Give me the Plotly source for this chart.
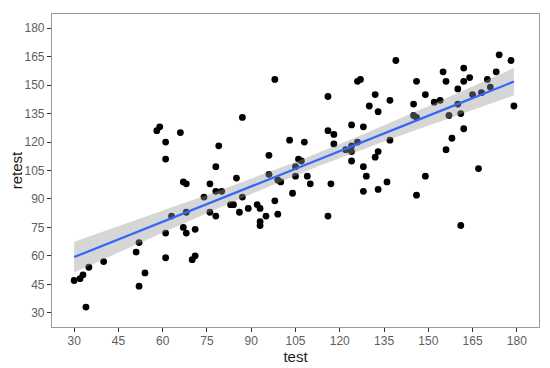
import numpy as np
import plotly.graph_objects as go

test = [30, 32, 33, 34, 35, 40, 51, 52, 52, 54, 58, 59, 61, 61, 61, 61, 63, 66, 67, 68,
        68, 67, 68, 70, 71, 71, 74, 76, 76, 78, 78, 78, 79, 80, 83, 84, 85, 86, 87, 87,
        89, 92, 93, 93, 93, 95, 96, 96, 98, 98, 99, 99, 100, 103, 104, 105, 105, 106, 107, 108,
        109, 110, 116, 116, 116, 117, 118, 118, 122, 124, 124, 124, 124, 126, 126, 127, 128, 128, 128, 129,
        130, 132, 132, 133, 133, 133, 136, 137, 137, 139, 145, 145, 146, 146, 146, 149, 149, 152, 154, 155,
        156, 156, 157, 158, 160, 160, 161, 161, 162, 162, 162, 164, 165, 167, 168, 170, 171, 173, 174, 178,
        179]
retest = [47, 48, 50, 33, 54, 57, 62, 67, 44, 51, 126, 128, 120, 111, 72, 59, 81, 125, 99, 98,
          83, 75, 72, 58, 60, 74, 91, 98, 83, 107, 94, 81, 118, 94, 87, 87, 101, 83, 133, 91,
          85, 87, 85, 78, 76, 81, 113, 103, 153, 89, 82, 100, 99, 121, 93, 107, 102, 111, 110, 120,
          102, 98, 144, 126, 81, 98, 124, 119, 116, 129, 118, 115, 110, 120, 152, 153, 128, 107, 94, 102,
          139, 145, 112, 136, 115, 95, 99, 142, 121, 163, 140, 134, 133, 152, 92, 145, 102, 141, 142, 157,
          152, 116, 134, 122, 148, 140, 135, 76, 159, 152, 127, 154, 145, 106, 146, 153, 149, 157, 166, 163,
          139]
tick_vals = [30, 45, 60, 75, 90, 105, 120, 135, 150, 165, 180]

x = np.array(test, dtype=float)
y = np.array(retest, dtype=float)
n = len(x)
xbar = x.mean()
sxx = ((x - xbar) ** 2).sum()
slope = ((x - xbar) * (y - y.mean())).sum() / sxx
intercept = y.mean() - slope * xbar
resid = y - (intercept + slope * x)
s = np.sqrt((resid ** 2).sum() / (n - 2))
tcrit = 1.98
xs = np.linspace(x.min(), x.max(), 80)
yhat = intercept + slope * xs
se = s * np.sqrt(1 / n + (xs - xbar) ** 2 / sxx)
lo = yhat - tcrit * se
hi = yhat + tcrit * se

fig = go.Figure()
fig.add_trace(go.Scatter(x=x, y=y, mode="markers",
                         marker=dict(color="black", size=6.8, line=dict(width=0)),
                         hoverinfo="skip", showlegend=False))
fig.add_trace(go.Scatter(x=np.concatenate([xs, xs[::-1]]), y=np.concatenate([hi, lo[::-1]]),
                         mode="lines", line=dict(width=0), fill="toself",
                         fillcolor="rgba(153,153,153,0.4)", hoverinfo="skip", showlegend=False))
fig.add_trace(go.Scatter(x=xs, y=yhat, mode="lines", line=dict(color="#3366FF", width=2.2),
                         hoverinfo="skip", showlegend=False))

axis_common = dict(
    tickvals=tick_vals, ticks="outside", ticklen=4, tickcolor="#333333", tickwidth=1,
    showgrid=False, zeroline=False, showline=True, linecolor="#9a9a9a", linewidth=1.2, mirror=True,
    automargin=False,
    tickfont=dict(family="Liberation Sans, Arial, sans-serif", size=12, color="#5e5e5e"),
    title_font=dict(family="Liberation Sans, Arial, sans-serif", size=15, color="#1a1a1a"),
)
fig.update_xaxes(range=[22.5, 187.5], title_text="test", title_standoff=0,
                 ticklabelstandoff=-2, **axis_common)
fig.update_yaxes(range=[22.5, 187.5], title_text="retest", title_standoff=5, **axis_common)

# the page body has an 8px default margin; the figure is sized to fill the rest of the window
fig.update_layout(
    width=542, height=360,
    margin=dict(l=44, r=11, t=6, b=41, autoexpand=False),
    plot_bgcolor="white", paper_bgcolor="white",
    font=dict(family="Liberation Sans, Arial, sans-serif"),
)
fig.write_html("out.html")
